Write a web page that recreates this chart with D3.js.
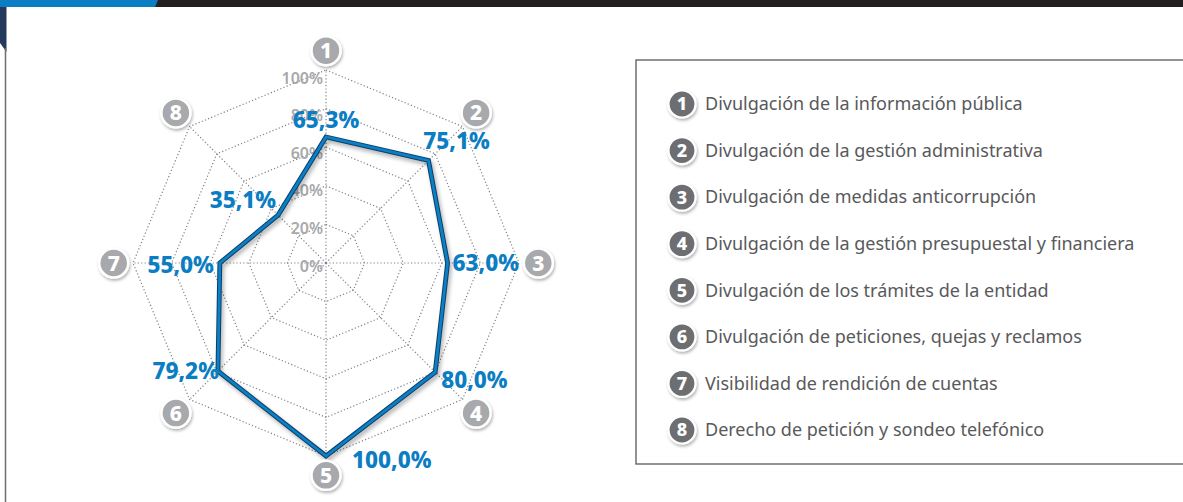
<!DOCTYPE html>
<html>
<head>
<meta charset="utf-8">
<script src="https://cdn.jsdelivr.net/npm/d3@7"></script>
<style>
  html, body { margin: 0; padding: 0; background: #fff; }
  svg { display: block; }
</style>
</head>
<body>
<svg id="chart" width="1183" height="502"></svg>
<script>
// chart values
const axisIds = ["1", "2", "3", "4", "5", "6", "7", "8"];
const axisNames = [
    "Divulgación de la información pública",
    "Divulgación de la gestión administrativa",
    "Divulgación de medidas anticorrupción",
    "Divulgación de la gestión presupuestal y financiera",
    "Divulgación de los trámites de la entidad",
    "Divulgación de peticiones, quejas y reclamos",
    "Visibilidad de rendición de cuentas",
    "Derecho de petición y sondeo telefónico"
];
const scores = [65.3, 75.1, 63.0, 80.0, 100.0, 79.2, 55.0, 35.1];
const ringTicks = [0, 20, 40, 60, 80, 100];

// where each value label sits relative to its vertex
const labelOffsets = [
    { dx: 0, dy: -17, anchor: "middle" },
    { dx: 28, dy: -20, anchor: "middle" },
    { dx: 5, dy: 0, anchor: "start" },
    { dx: 6, dy: 8, anchor: "start" },
    { dx: 26, dy: 4, anchor: "start" },
    { dx: 1, dy: 0, anchor: "end" },
    { dx: -6, dy: 2, anchor: "end" },
    { dx: -2, dy: -15, anchor: "end" }
];

const svg = d3.select("#chart");
const fmt = v => d3.format(".1f")(v).replace(".", ",") + "%";

const defs = svg.append("defs");
defs.append("filter").attr("id", "shadow")
    .attr("x", "-50%").attr("y", "-50%").attr("width", "200%").attr("height", "200%")
    .append("feDropShadow")
    .attr("dx", 1).attr("dy", 2).attr("stdDeviation", 1.8)
    .attr("flood-color", "#000").attr("flood-opacity", 0.3);
defs.append("filter").attr("id", "blur")
    .append("feGaussianBlur").attr("stdDeviation", 2);

// page frame
svg.append("rect").attr("x", 0).attr("y", 0).attr("width", 1183).attr("height", 7).attr("fill", "#231f20");
svg.append("path").attr("d", "M0,0H158L155,7H0Z").attr("fill", "#0a7dc3");
svg.append("path").attr("d", "M0,7H6.5V52L0,43Z").attr("fill", "#233a5e");
svg.append("line").attr("x1", 5.5).attr("x2", 5.5).attr("y1", 48).attr("y2", 502)
    .attr("stroke", "#6d6e71").attr("stroke-width", 1.5);

// radar
const cx = 326, cy = 263, R = 193;
const r = d3.scaleLinear().domain([0, 100]).range([0, R]);
const angle = d3.scalePoint().domain(axisIds).range([0, 2 * Math.PI * 7 / 8]);
const pt = (id, v) => {
    const a = angle(id) - Math.PI / 2;
    return [cx + r(v) * Math.cos(a), cy + r(v) * Math.sin(a)];
};

const g = svg.append("g");

// rings
const ringLine = d3.line().curve(d3.curveLinearClosed);
g.selectAll(".ring")
    .data(ringTicks.filter(t => t > 0))
    .enter().append("path")
    .attr("class", "ring")
    .attr("d", t => ringLine(axisIds.map(id => pt(id, t))))
    .attr("fill", "none")
    .attr("stroke", "#808285")
    .attr("stroke-width", 1.2)
    .attr("stroke-dasharray", "1.2,2.2");

// spokes
g.selectAll(".spoke")
    .data(axisIds)
    .enter().append("line")
    .attr("class", "spoke")
    .attr("x1", cx).attr("y1", cy)
    .attr("x2", d => pt(d, 100)[0])
    .attr("y2", d => pt(d, 100)[1])
    .attr("stroke", "#808285")
    .attr("stroke-width", 1.2)
    .attr("stroke-dasharray", "1.2,2.2");

// tick labels
g.selectAll(".tick")
    .data(ringTicks)
    .enter().append("text")
    .attr("class", "tick")
    .attr("x", cx - 3)
    .attr("y", t => cy - r(t) + 3 + t * 0.05)
    .attr("dy", "0.35em")
    .attr("text-anchor", "end")
    .attr("font-family", "Noto Sans")
    .attr("font-weight", 600)
    .attr("font-size", 16)
    .attr("fill", "#a7a9ac")
    .text(t => t + "%");

// data polygon
const dataPts = axisIds.map((id, i) => pt(id, scores[i]));
g.append("path")
    .attr("d", ringLine(dataPts))
    .attr("transform", "translate(2,3)")
    .attr("fill", "none")
    .attr("stroke", "#000")
    .attr("stroke-opacity", 0.35)
    .attr("stroke-width", 4)
    .attr("filter", "url(#blur)");
g.append("path")
    .attr("d", ringLine(dataPts))
    .attr("fill", "none")
    .attr("stroke", "#0f3d66")
    .attr("stroke-width", 4.8)
    .attr("stroke-linejoin", "miter");
g.append("path")
    .attr("d", ringLine(dataPts))
    .attr("fill", "none")
    .attr("stroke", "#0a80c6")
    .attr("stroke-width", 2.8)
    .attr("stroke-linejoin", "miter");

// value labels
g.selectAll(".val")
    .data(axisIds)
    .enter().append("text")
    .attr("class", "val")
    .attr("x", (d, i) => pt(d, scores[i])[0] + labelOffsets[i].dx)
    .attr("y", (d, i) => pt(d, scores[i])[1] + labelOffsets[i].dy)
    .attr("dy", "0.36em")
    .attr("text-anchor", (d, i) => labelOffsets[i].anchor)
    .attr("font-family", "Noto Sans")
    .attr("font-weight", 800)
    .attr("font-size", 22.5)
    .attr("fill", "#0a7dc3")
    .text((d, i) => fmt(scores[i]));

// axis number badges
const badge = g.selectAll(".badge")
    .data(axisIds)
    .enter().append("g")
    .attr("class", "badge")
    .attr("transform", d => `translate(${pt(d, 110)[0]},${pt(d, 110)[1]})`);
badge.append("circle")
    .attr("r", 14.5)
    .attr("fill", "#a7a9ac")
    .attr("stroke", "#fff")
    .attr("stroke-width", 2.5)
    .attr("filter", "url(#shadow)");
badge.append("text")
    .attr("dy", "0.36em")
    .attr("text-anchor", "middle")
    .attr("font-family", "Noto Sans")
    .attr("font-weight", 800)
    .attr("font-size", 21)
    .attr("fill", "#fff")
    .text(d => d);

// legend
const legendY = d3.scalePoint().domain(axisIds).range([104, 430]);
svg.append("rect")
    .attr("x", 636).attr("y", 60).attr("width", 560).attr("height", 404)
    .attr("fill", "none").attr("stroke", "#58595b").attr("stroke-width", 1.3);

const item = svg.selectAll(".legend")
    .data(axisIds)
    .enter().append("g")
    .attr("class", "legend")
    .attr("transform", d => `translate(682,${legendY(d)})`);
item.append("circle")
    .attr("r", 13.5)
    .attr("fill", "#6d6e71")
    .attr("stroke", "#fff")
    .attr("stroke-width", 2.2)
    .attr("filter", "url(#shadow)");
item.append("text")
    .attr("dy", "0.36em")
    .attr("text-anchor", "middle")
    .attr("font-family", "Noto Sans")
    .attr("font-weight", 800)
    .attr("font-size", 18)
    .attr("fill", "#fff")
    .text(d => d);
item.append("text")
    .attr("x", 23)
    .attr("dy", "0.35em")
    .attr("font-family", "Noto Sans")
    .attr("font-size", 18)
    .attr("fill", "#58595b")
    .text((d, i) => axisNames[i]);
</script>
</body>
</html>
